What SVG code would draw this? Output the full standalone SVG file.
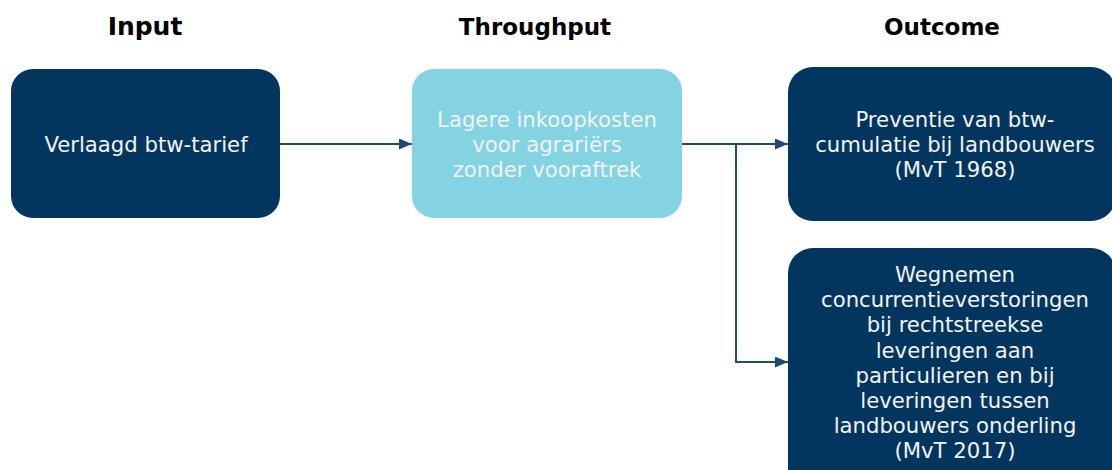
<svg xmlns="http://www.w3.org/2000/svg" width="1112" height="470" viewBox="0 0 1112 470">
<defs>
<style>
.h{font-family:"DejaVu Sans","Liberation Sans",sans-serif;font-weight:bold;font-size:23px;fill:#000;text-anchor:middle}
.t{font-family:"DejaVu Sans","Liberation Sans",sans-serif;font-size:21.2px;fill:#F2F2F2;text-anchor:middle}
.dark{fill:#02365F}
.light{fill:#84D3E3}
.c{fill:none;stroke:#1D4A7A;stroke-width:2}
</style>
<marker id="ah" viewBox="0 0 13 11" refX="13" refY="5.5" markerWidth="13" markerHeight="11" markerUnits="userSpaceOnUse" orient="auto">
<path d="M0,0 L13,5.5 L0,11 z" fill="#1D4A7A"/>
</marker>
</defs>
<rect width="1112" height="470" fill="#FFFFFF"/>
<g id="headings">
<text class="h" x="145" y="35" style="font-size:25px">Input</text>
<text class="h" x="535" y="35">Throughput</text>
<text class="h" x="942" y="35">Outcome</text>
</g>
<g id="connectors">
<path class="c" d="M280,144 H412" marker-end="url(#ah)"/>
<path class="c" d="M682,144 H788" marker-end="url(#ah)"/>
<path class="c" d="M736,144 V362 H788" marker-end="url(#ah)"/>
</g>
<g id="input">
<rect class="dark" x="11" y="69" width="269" height="149" rx="22"/>
<text class="t" x="146" y="152">Verlaagd btw-tarief</text>
</g>
<g id="throughput">
<rect class="light" x="412" y="69" width="270" height="149" rx="22"/>
<text class="t" x="547" y="127">Lagere inkoopkosten</text>
<text class="t" x="547" y="152">voor agrariërs</text>
<text class="t" x="547" y="177">zonder vooraftrek</text>
</g>
<g id="outcome1">
<rect class="dark" x="788" y="67" width="328" height="154" rx="25"/>
<text class="t" x="955" y="127">Preventie van btw-</text>
<text class="t" x="955" y="152">cumulatie bij landbouwers</text>
<text class="t" x="955" y="177">(MvT 1968)</text>
</g>
<g id="outcome2">
<rect class="dark" x="788" y="248" width="328" height="245" rx="25"/>
<text class="t" x="955" y="282">Wegnemen</text>
<text class="t" x="955" y="307">concurrentieverstoringen</text>
<text class="t" x="955" y="332">bij rechtstreekse</text>
<text class="t" x="955" y="358">leveringen aan</text>
<text class="t" x="955" y="383">particulieren en bij</text>
<text class="t" x="955" y="408">leveringen tussen</text>
<text class="t" x="955" y="433">landbouwers onderling</text>
<text class="t" x="955" y="458">(MvT 2017)</text>
</g>
</svg>
